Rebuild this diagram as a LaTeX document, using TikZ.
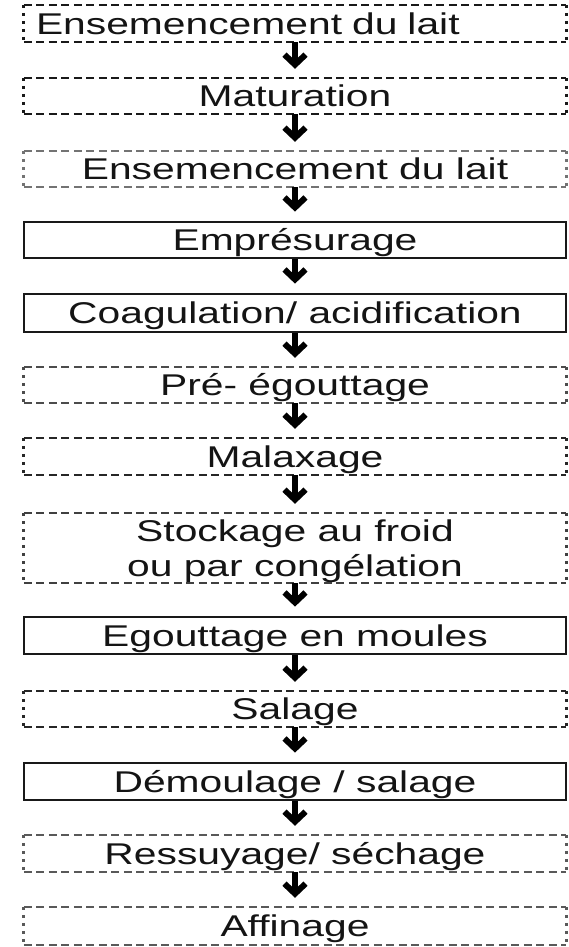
\documentclass[tikz,border=0pt]{standalone}
\usepackage{fontspec}
\setmainfont{Liberation Sans}[FakeStretch=1.36]
\usetikzlibrary{arrows.meta}
\begin{document}
\begin{tikzpicture}[x=1pt,y=-1pt,
  box/.style={rectangle, minimum width=542pt, inner sep=0pt, text height=21.5pt, text depth=0pt,
              font=\fontsize{30}{35}\selectfont, align=center, text=black!92},
  solidbox/.style={box, draw=black!90, line width=2.8pt},
  hd/.style={line width=2.3pt, dash pattern=on 8pt off 4.5pt},
  vd/.style={line width=2.8pt, dash pattern=on 3.5pt off 4.5pt},
  arr/.style={line width=5.5pt, black, -{Straight Barb[length=10pt,width=21pt,line width=6pt]}}
]
\useasboundingbox (0,0) rectangle (568,947);

\node[box, minimum height=37pt, text width=518pt, inner xsep=12pt, align=left] (b1) at (295,23.5) {Ensemencement du lait};
\node[box, minimum height=36pt] (b2) at (295,96) {Maturation};
\node[box, minimum height=36pt] (b3) at (295,169) {Ensemencement du lait};
\node[solidbox, minimum height=36pt] (b4) at (295,240) {Emprésurage};
\node[solidbox, minimum height=38pt] (b5) at (295,313) {Coagulation/ acidification};
\node[box, minimum height=36pt] (b6) at (295,385) {Pré- égouttage};
\node[box, minimum height=37pt] (b7) at (295,456.5) {Malaxage};
\node[box, minimum height=70pt, text height=] (b8) at (295,548) {Stockage au froid\\ou par congélation};
\node[solidbox, minimum height=37pt] (b9) at (295,635.5) {Egouttage en moules};
\node[box, minimum height=36pt] (b10) at (295,709) {Salage};
\node[solidbox, minimum height=37pt] (b11) at (295,781.5) {Démoulage / salage};
\node[box, minimum height=37pt] (b12) at (295,853.5) {Ressuyage/ séchage};
\node[box, minimum height=38pt] (b13) at (295,926) {Affinage};

\foreach \n/\c in {b1/black!90, b2/black!90, b3/black!55, b6/black!70, b7/black!85, b8/black!75, b10/black!85, b12/black!65, b13/black!65}{
  \draw[hd, \c] (\n.north west) -- (\n.north east) (\n.south west) -- (\n.south east);
  \draw[vd, \c] (\n.north west) -- (\n.south west) (\n.north east) -- (\n.south east);
}

\foreach \a/\b in {b1/b2, b2/b3, b3/b4, b4/b5, b5/b6, b6/b7, b7/b8, b8/b9, b9/b10, b10/b11, b11/b12, b12/b13}{
  \draw[arr] (\a.south) -- ([yshift=9pt]\b.north);
}
\end{tikzpicture}
\end{document}
